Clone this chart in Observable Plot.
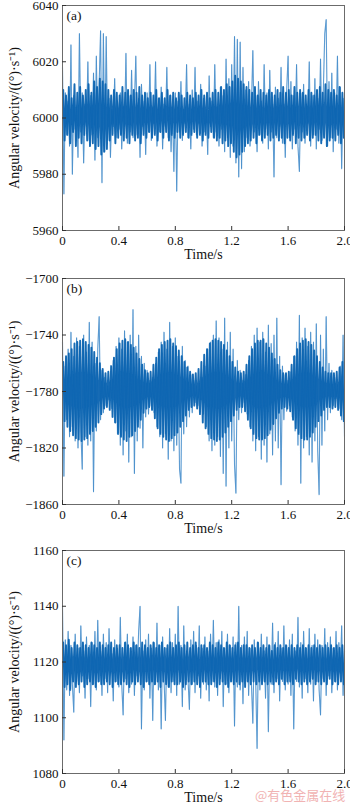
<!DOCTYPE html>
<html><head><meta charset="utf-8">
<script src="https://cdn.jsdelivr.net/npm/d3@7"></script>
<script src="https://cdn.jsdelivr.net/npm/@observablehq/plot@0.6"></script>
<style>
body{margin:0;background:#fff;width:350px;height:807px;overflow:hidden;position:relative}
#wrap svg{display:block}
#wm{position:absolute;left:255px;top:788px;font-family:"Noto Sans CJK SC";font-size:13px;line-height:13px;color:#f1b3b3;white-space:nowrap}
</style></head><body>
<div id="wrap"></div>
<div id="wm">@有色金属在线</div>
<script>
// sample spacing of the recorded signals (s); core samples sit half a step later
const sampleStep = 0.01;
const coreOffset = 0.005;
const xTicks = [0, 0.4, 0.8, 1.2, 1.6, 2.0];
const xLabel = "Time/s";
const yLabel = "Angular velocity/((°)·s⁻¹)";

const panelLabels = ["(a)", "(b)", "(c)"];
const yDomains = [[5960, 6040], [-1860, -1700], [1080, 1160]];
const yTicksA = [5960, 5980, 6000, 6020, 6040];
const yTicksB = [-1860, -1820, -1780, -1740, -1700];
const yTicksC = [1080, 1100, 1120, 1140, 1160];

// outer excursions (light spikes)
const seriesA = [
6018,5973,6009,5994,6006,5990,6026,5980,6008,5996,
6004,5986,6030,5995,6009,5984,6005,5997,6020,5992,
6008,5994,6016,5985,6022,5993,6012,6031,5977,6030,
5988,6029,5992,6007,5986,6003,5997,6014,5993,6006,
5996,6009,5989,6004,5997,6023,5991,6008,5995,6017,
5993,6005,6022,5994,6007,5986,6012,5997,6006,5987,
6009,5995,6019,5992,6004,5998,6020,5990,6007,5995,
6011,5989,6005,5997,6018,5993,6008,5988,6004,5981,
6009,5974,6006,5995,6013,5992,6003,5998,6019,5993,
6005,5989,6010,5996,6018,5994,6006,5998,6012,5990,
6007,5995,6003,5987,6015,5997,6006,5993,6019,5995,
6004,5990,6011,5996,6008,5988,6021,5993,6014,5986,
6019,5990,6029,5984,6028,5979,6027,5982,6018,5988,
6010,5993,6013,5990,6004,6024,5995,6008,5988,6013,
5994,6006,5991,6019,5996,6009,5989,6017,5995,6005,
5979,6011,5993,6007,5997,6018,5991,6005,5986,6010,
6022,5993,6013,5989,6008,5996,6019,5990,5981,6009,
5995,6012,5991,6005,5998,6020,5990,6008,5994,6014,
5989,6007,5996,6021,5992,6010,6030,6035,5990,6013,
5993,6016,5988,6009,5996,6022,5991,6011,5982,6007,
5999];

const seriesB = [
-1745,-1840,-1762,-1800,-1750,-1812,-1738,-1805,-1755,-1815,
-1742,-1820,-1748,-1808,-1835,-1740,-1812,-1752,-1818,-1731,
-1815,-1745,-1851,-1760,-1808,-1750,-1727,-1800,-1765,-1795,
-1770,-1790,-1776,-1786,-1772,-1792,-1758,-1802,-1748,-1810,
-1742,-1818,-1750,-1825,-1737,-1808,-1745,-1830,-1740,-1812,
-1722,-1838,-1748,-1815,-1740,-1806,-1755,-1820,-1760,-1798,
-1765,-1796,-1772,-1790,-1770,-1795,-1760,-1805,-1752,-1812,
-1745,-1820,-1738,-1810,-1750,-1828,-1731,-1815,-1748,-1822,
-1742,-1818,-1755,-1835,-1845,-1748,-1810,-1758,-1805,-1762,
-1798,-1768,-1795,-1772,-1788,-1776,-1790,-1774,-1786,-1770,
-1796,-1762,-1805,-1750,-1815,-1745,-1822,-1740,-1818,-1730,
-1812,-1742,-1826,-1750,-1838,-1728,-1847,-1745,-1820,-1738,
-1815,-1750,-1832,-1852,-1758,-1800,-1765,-1795,-1772,-1788,
-1768,-1796,-1758,-1805,-1748,-1815,-1740,-1822,-1735,-1812,
-1745,-1828,-1738,-1818,-1752,-1830,-1733,-1810,-1746,-1825,
-1740,-1815,-1728,-1820,-1755,-1846,-1762,-1800,-1768,-1794,
-1772,-1790,-1766,-1798,-1755,-1808,-1745,-1818,-1726,-1845,
-1742,-1820,-1735,-1812,-1748,-1825,-1738,-1830,-1745,-1815,
-1732,-1822,-1853,-1740,-1818,-1750,-1808,-1727,-1800,-1760,
-1795,-1765,-1790,-1770,-1785,-1775,-1792,-1762,-1800,-1740,
-1812];

const seriesC = [
1140,1092,1128,1110,1131,1108,1126,1112,1102,1130,
1113,1125,1109,1133,1115,1124,1107,1129,1114,1126,
1104,1127,1112,1131,1110,1135,1113,1124,1108,1130,
1114,1127,1109,1132,1116,1123,1106,1128,1113,1125,
1111,1136,1112,1101,1127,1114,1130,1109,1125,1112,
1129,1108,1126,1115,1131,1140,1096,1124,1110,1128,
1113,1130,1107,1125,1099,1127,1112,1134,1110,1126,
1096,1129,1114,1099,1125,1111,1132,1109,1127,1113,
1130,1108,1140,1112,1126,1104,1133,1110,1124,1114,
1103,1128,1112,1131,1109,1126,1115,1133,1107,1125,
1112,1129,1110,1124,1106,1130,1113,1135,1111,1127,
1108,1128,1114,1131,1104,1125,1112,1130,1109,1126,
1113,1129,1097,1127,1111,1140,1110,1126,1105,1129,
1113,1131,1108,1125,1112,1098,1128,1114,1089,1127,
1110,1130,1113,1124,1107,1129,1095,1126,1112,1134,
1109,1127,1114,1131,1106,1125,1113,1133,1110,1126,
1112,1128,1108,1130,1096,1124,1113,1136,1111,1127,
1107,1131,1114,1125,1109,1132,1112,1126,1106,1130,
1113,1128,1110,1101,1126,1114,1132,1108,1127,1115,
1129,1109,1125,1113,1131,1110,1127,1116,1133,1108,
1124];

// dense inner oscillation (dark core)
const coreA = [
6010,5992,6008,5994,6011,5991,6007,5995,6012,5990,
6009,5993,6011,5991,6008,5994,6010,5992,6012,5990,
6009,5991,6013,5989,6011,5990,6014,5987,6013,5988,
6012,5989,6010,5992,6008,5994,6010,5991,6009,5993,
6008,5994,6011,5992,6009,5993,6010,5991,6008,5994,
6010,5992,6009,5993,6011,5991,6008,5994,6009,5993,
6007,5995,6009,5993,6008,5994,6010,5992,6007,5995,
6009,5993,6007,5995,6010,5992,6008,5994,6009,5993,
6007,5995,6009,5993,6008,5994,6007,5995,6009,5993,
6008,5994,6007,5995,6009,5993,6008,5994,6010,5992,
6008,5994,6009,5993,6007,5995,6009,5993,6010,5992,
6009,5993,6011,5991,6010,5992,6012,5990,6011,5991,
6013,5988,6015,5986,6014,5987,6013,5988,6012,5990,
6011,5991,6010,5992,6009,5993,6011,5991,6008,5994,
6010,5992,6009,5993,6008,5994,6010,5992,6009,5993,
6008,5994,6010,5992,6009,5993,6011,5991,6009,5993,
6010,5992,6008,5994,6011,5991,6009,5993,6010,5992,
6009,5993,6008,5994,6010,5992,6009,5993,6008,5994,
6010,5992,6011,5991,6009,5993,6012,5990,6010,5992,
6009,5993,6010,5992,6008,5994,6011,5991,6009,5993];

const coreB = [
-1759,-1801,-1755,-1805,-1753,-1808,-1750,-1811,-1746,-1813,
-1745,-1814,-1744,-1815,-1743,-1814,-1745,-1813,-1747,-1810,
-1749,-1808,-1752,-1805,-1756,-1802,-1760,-1796,-1764,-1792,
-1767,-1791,-1766,-1793,-1762,-1798,-1756,-1802,-1750,-1810,
-1746,-1812,-1744,-1814,-1743,-1815,-1745,-1812,-1747,-1811,
-1749,-1808,-1753,-1805,-1757,-1800,-1761,-1795,-1765,-1792,
-1767,-1791,-1766,-1793,-1761,-1799,-1756,-1806,-1750,-1810,
-1747,-1812,-1745,-1814,-1744,-1815,-1743,-1813,-1746,-1811,
-1748,-1809,-1751,-1805,-1755,-1801,-1759,-1797,-1763,-1793,
-1766,-1791,-1768,-1790,-1767,-1792,-1764,-1796,-1759,-1802,
-1754,-1806,-1750,-1810,-1746,-1813,-1744,-1814,-1743,-1815,
-1744,-1814,-1745,-1812,-1747,-1809,-1751,-1805,-1755,-1801,
-1759,-1797,-1763,-1793,-1766,-1791,-1767,-1791,-1766,-1794,
-1761,-1800,-1755,-1806,-1750,-1810,-1746,-1813,-1744,-1814,
-1744,-1814,-1743,-1813,-1746,-1811,-1749,-1807,-1753,-1803,
-1757,-1799,-1761,-1795,-1765,-1792,-1767,-1791,-1767,-1792,
-1766,-1794,-1761,-1800,-1755,-1806,-1750,-1810,-1746,-1813,
-1744,-1814,-1743,-1814,-1745,-1812,-1747,-1809,-1751,-1805,
-1755,-1801,-1759,-1797,-1763,-1793,-1766,-1791,-1767,-1791,
-1767,-1792,-1767,-1791,-1766,-1793,-1763,-1797,-1759,-1801];

const coreC = [
1127,1111,1126,1112,1128,1110,1125,1113,1127,1111,
1126,1112,1125,1113,1127,1111,1126,1112,1125,1113,
1127,1112,1126,1111,1125,1113,1127,1112,1126,1112,
1125,1113,1126,1112,1127,1111,1125,1113,1126,1112,
1126,1112,1125,1113,1127,1112,1126,1111,1125,1113,
1127,1112,1126,1113,1125,1112,1127,1111,1126,1113,
1125,1112,1126,1113,1127,1112,1125,1113,1126,1111,
1127,1113,1125,1112,1126,1111,1127,1113,1125,1112,
1126,1112,1127,1113,1125,1111,1126,1112,1127,1113,
1125,1112,1126,1113,1127,1112,1125,1111,1126,1113,
1126,1113,1125,1112,1127,1112,1126,1113,1125,1111,
1127,1112,1126,1113,1125,1112,1127,1111,1126,1113,
1125,1112,1126,1113,1127,1112,1125,1113,1126,1111,
1126,1113,1125,1112,1126,1113,1125,1112,1127,1113,
1125,1112,1126,1113,1125,1112,1126,1113,1124,1112,
1126,1113,1125,1112,1126,1114,1125,1112,1126,1113,
1125,1113,1126,1112,1125,1114,1126,1113,1125,1112,
1126,1113,1125,1112,1126,1113,1125,1114,1126,1112,
1125,1113,1126,1112,1125,1113,1126,1112,1125,1114,
1126,1112,1125,1113,1126,1112,1125,1113,1126,1112];

const panels = [
  {series: seriesA, core: coreA, yTicks: yTicksA, domain: yDomains[0], label: panelLabels[0], height: 270, mt: 5, mb: 40},
  {series: seriesB, core: coreB, yTicks: yTicksB, domain: yDomains[1], label: panelLabels[1], height: 270, mt: 8, mb: 36},
  {series: seriesC, core: coreC, yTicks: yTicksC, domain: yDomains[2], label: panelLabels[2], height: 267, mt: 10, mb: 34}
];

const ML = 62, MR = 6, W = 350;
const wrap = document.getElementById("wrap");
for (const p of panels) {
  const data = p.series.map((v, i) => ({t: i * sampleStep, v}));
  const core = p.core.map((v, i) => ({t: coreOffset + i * sampleStep, v}));
  const ph = p.height - p.mt - p.mb;
  const pw = W - ML - MR;
  const chart = Plot.plot({
    width: W, height: p.height,
    marginLeft: ML, marginRight: MR, marginTop: p.mt, marginBottom: p.mb,
    style: {fontFamily: "Liberation Serif, Times New Roman, serif", fontSize: "13px", color: "#111", background: "#fff", overflow: "visible"},
    x: {domain: [0, 2]},
    y: {domain: p.domain},
    marks: [
      Plot.line(data, {x: "t", y: "v", stroke: "#5b9bd3", strokeWidth: 1.1, strokeOpacity: 0.85}),
      Plot.line(core, {x: "t", y: "v", stroke: "#0b63b0", strokeWidth: 1.9, strokeOpacity: 0.95}),
      Plot.line(data, {x: "t", y: "v", stroke: "#0b63b0", strokeWidth: 0.7, strokeOpacity: 0.3}),
      Plot.frame({stroke: "#6b6b6b", strokeWidth: 1}),
      Plot.tickX(xTicks, {x: d => d, insetTop: ph - 4, stroke: "#333"}),
      Plot.tickY(p.yTicks, {y: d => d, insetRight: pw - 4, stroke: "#333"}),
      Plot.axisX({ticks: xTicks, tickSize: 0, tickPadding: 5, tickFormat: d => d === 0 ? "0" : d.toFixed(1), label: null, fontSize: 13}),
      Plot.axisY({ticks: p.yTicks, tickSize: 0, tickPadding: 4, tickFormat: d => String(d).replace("-", "−"), label: null, fontSize: 13}),
      Plot.text([xLabel], {frameAnchor: "bottom", dy: 28, fontSize: 14, fill: "#111"}),
      Plot.text([yLabel], {frameAnchor: "left", textAnchor: "middle", rotate: -90, dx: -48, fontSize: 14, fill: "#111"}),
      Plot.text([p.label], {frameAnchor: "top-left", textAnchor: "start", lineAnchor: "top", dx: 4, dy: 5, fontSize: 13.5, fill: "#111"})
    ]
  });
  wrap.appendChild(chart);
}
</script>
</body></html>
